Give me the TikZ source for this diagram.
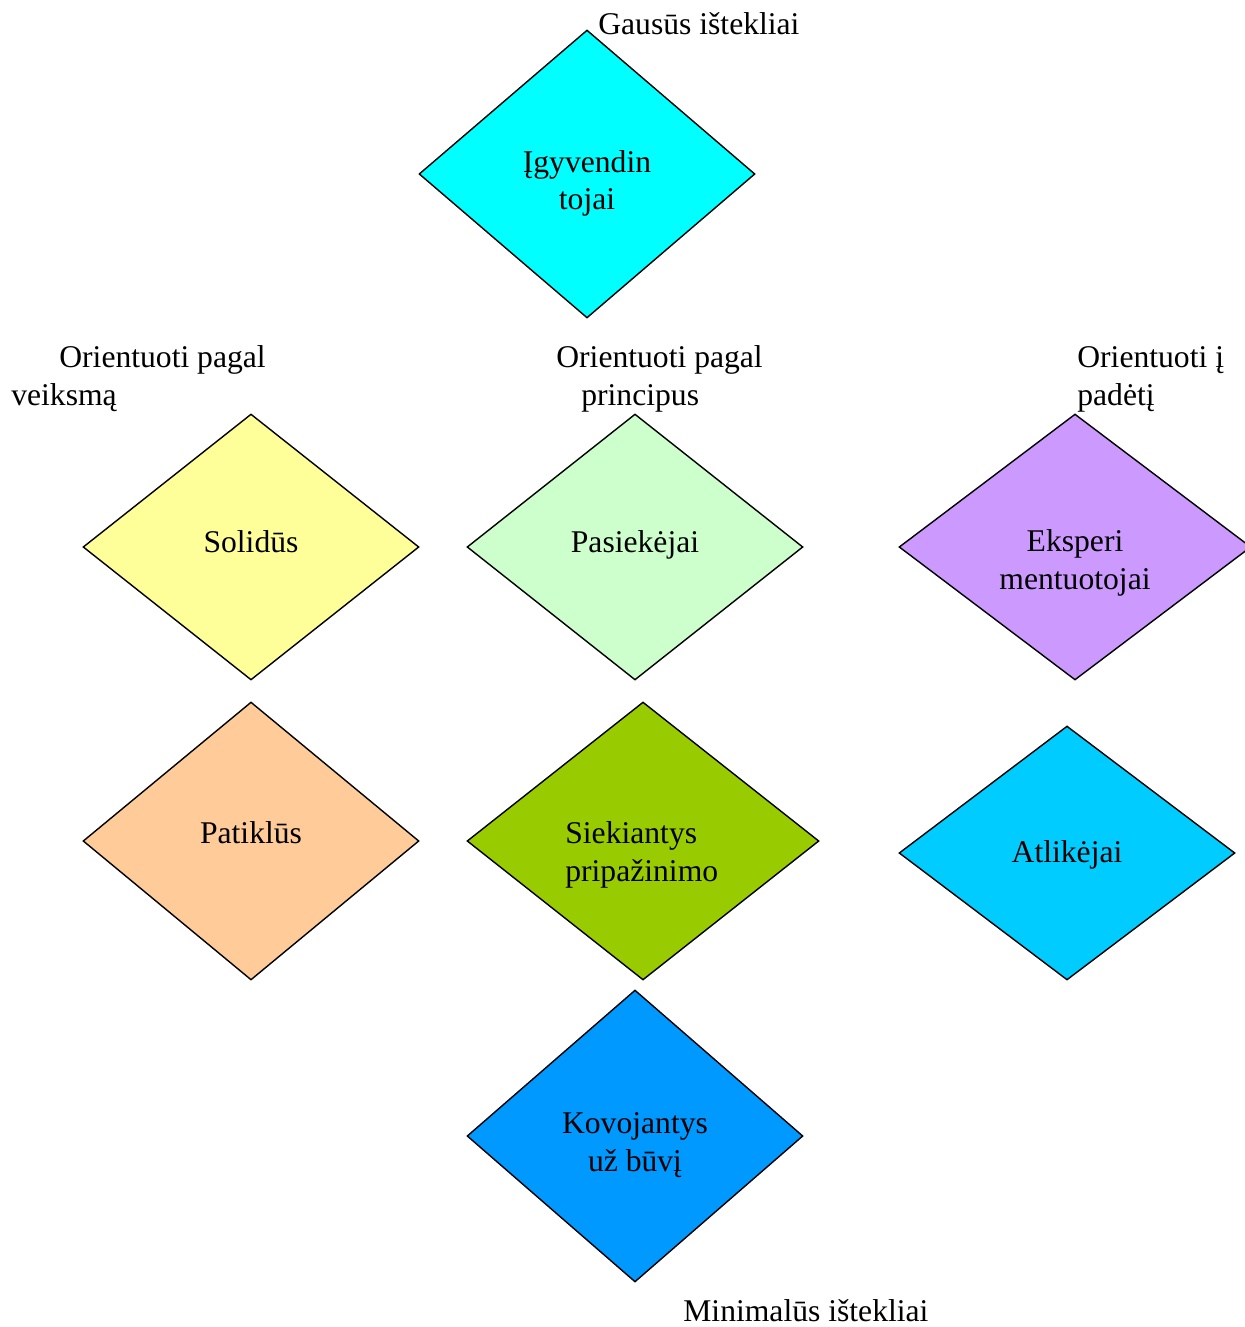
\documentclass[tikz,border=0pt]{standalone}
\usepackage{fontspec}
\setmainfont{Liberation Serif}
\usetikzlibrary{shapes.geometric}

\definecolor{cIgyv}{HTML}{00FFFF}
\definecolor{cSolid}{HTML}{FFFF99}
\definecolor{cPasiek}{HTML}{CCFFCC}
\definecolor{cEksp}{HTML}{CC99FF}
\definecolor{cPatikl}{HTML}{FFCC99}
\definecolor{cSiek}{HTML}{99CC00}
\definecolor{cAtlik}{HTML}{00CCFF}
\definecolor{cKovoj}{HTML}{0099FF}

\begin{document}
\begin{tikzpicture}[x=0.02cm,y=-0.02cm]
  \tikzstyle{diamondblock}=[diamond, draw, line width=0.8pt, inner sep=0pt]
  \tikzstyle{txt}=[inner sep=0pt, font=\fontsize{18pt}{21.6pt}\selectfont]
  \useasboundingbox (0,0) rectangle (1244,1327);
  % diamonds
  \node[diamondblock, fill=cIgyv, minimum width=6.72cm, minimum height=5.76cm] (Igyvendintojai) at (587,174) {};
  \node[diamondblock, fill=cSolid, minimum width=6.72cm, minimum height=5.32cm] (Solidus) at (251,547) {};
  \node[diamondblock, fill=cPasiek, minimum width=6.72cm, minimum height=5.32cm] (Pasiekejai) at (635,547) {};
  \node[diamondblock, fill=cEksp, minimum width=7.04cm, minimum height=5.32cm] (Eksperimentuotojai) at (1075,547) {};
  \node[diamondblock, fill=cPatikl, minimum width=6.72cm, minimum height=5.56cm] (Patiklus) at (251,841) {};
  \node[diamondblock, fill=cSiek, minimum width=7.04cm, minimum height=5.56cm] (Siekiantys) at (643,841) {};
  \node[diamondblock, fill=cAtlik, minimum width=6.72cm, minimum height=5.08cm] (Atlikejai) at (1067,853) {};
  \node[diamondblock, fill=cKovoj, minimum width=6.72cm, minimum height=5.84cm] (Kovojantys) at (635,1136) {};
  % texts in the diamonds (base = last line)
  \node[txt, anchor=base, align=center] (Igyvendintojai text) at (587,210) {Įgyvendin\\tojai};
  \node[txt, anchor=base] (Solidus text) at (251,552) {Solidūs};
  \node[txt, anchor=base] (Pasiekejai text) at (635,552) {Pasiekėjai};
  \node[txt, anchor=base, align=center] (Eksperimentuotojai text) at (1075,589) {Eksperi\\mentuotojai};
  \node[txt, anchor=base] (Patiklus text) at (251,843) {Patiklūs};
  \node[txt, anchor=base west, align=left] (Siekiantys text) at (565,881) {Siekiantys\\pripažinimo};
  \node[txt, anchor=base] (Atlikejai text) at (1067,862) {Atlikėjai};
  \node[txt, anchor=base, align=center] (Kovojantys text) at (635,1171) {Kovojantys\\už būvį};
  % axis labels
  \node[txt, anchor=base west] (Gausus) at (598,35) {Gausūs ištekliai};
  \node[txt, anchor=base west, align=left] (Veiksma) at (11,405) {\hspace*{0.96cm}Orientuoti pagal\\veiksmą};
  \node[txt, anchor=base west, align=left] (Principus) at (556,405) {Orientuoti pagal\\\hspace*{0.5cm}principus};
  \node[txt, anchor=base west, align=left] (Padeti) at (1077,405) {Orientuoti į\\padėtį};
  \node[txt, anchor=base west] (Minimalus) at (683,1321) {Minimalūs ištekliai};
\end{tikzpicture}
\end{document}
